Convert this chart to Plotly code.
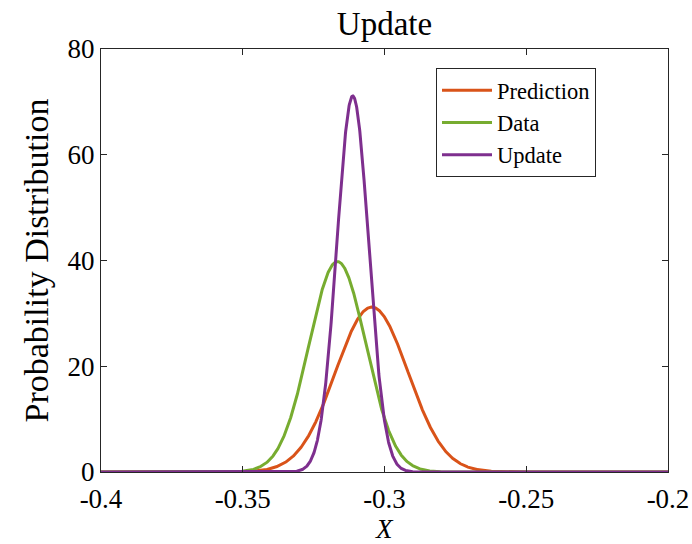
import numpy as np
import plotly.graph_objects as go

# Data (Gaussian densities)
series_names = ["Prediction", "Data", "Update"]
series_means = [-0.3045, -0.3166, -0.3112]
series_sigmas = [0.01279, 0.01002, 0.00561]
series_colors = ["#D95319", "#77AC30", "#7E2F8E"]

x_tick_vals = [-0.4, -0.35, -0.3, -0.25, -0.2]
x_tick_text = ["-0.4", "-0.35", "-0.3", "-0.25", "-0.2"]
y_tick_vals = [0, 20, 40, 60, 80]
y_tick_text = ["0", "20", "40", "60", "80"]

x = np.linspace(-0.4, -0.2, 2001)

FONT = "Liberation Serif"
fig = go.Figure()
for name, mu, sd, col in zip(series_names, series_means, series_sigmas, series_colors):
    y = np.exp(-0.5 * ((x - mu) / sd) ** 2) / (sd * np.sqrt(2 * np.pi))
    fig.add_trace(go.Scatter(x=x, y=y, mode="lines", name=name,
                             line=dict(color=col, width=3)))

axcol = "#262626"
fig.update_layout(
    width=692, height=544,
    margin=dict(l=101, r=24, t=49, b=72, autoexpand=False),
    plot_bgcolor="white", paper_bgcolor="white",
    font=dict(family=FONT, size=27, color="black"),
    title=dict(text="Update", x=(101 + 668) / 2 / 692, xanchor="center",
               y=1 - 23 / 544, yanchor="middle", font=dict(size=33),
               automargin=False),
    showlegend=True,
    legend=dict(x=(436 - 101) / 567, y=(472 - 68) / 423, xanchor="left", yanchor="top",
                bordercolor=axcol, borderwidth=1, bgcolor="white",
                font=dict(size=22.5), tracegroupgap=0, itemwidth=50),
    xaxis=dict(range=[-0.4, -0.2], tickvals=x_tick_vals, ticktext=x_tick_text,
               ticks="inside", ticklen=6, tickcolor=axcol, mirror="ticks",
               showline=True, linecolor=axcol, linewidth=1, showgrid=False,
               zeroline=False, tickfont=dict(size=27), automargin=False,
               ticklabelstandoff=3),
    yaxis=dict(range=[0, 80], tickvals=y_tick_vals, ticktext=y_tick_text,
               ticks="inside", ticklen=6, tickcolor=axcol, mirror="ticks",
               showline=True, linecolor=axcol, linewidth=1, showgrid=False,
               zeroline=False, tickfont=dict(size=27), automargin=False,
               title=dict(text="Probability Distribution", font=dict(size=34), standoff=8)),
    annotations=[dict(text="<i>X</i>", xref="paper", yref="paper", x=0.5,
                      y=(472 - 529) / 423, xanchor="center", yanchor="middle",
                      showarrow=False, font=dict(size=27))],
)

fig.write_html("out.html")
